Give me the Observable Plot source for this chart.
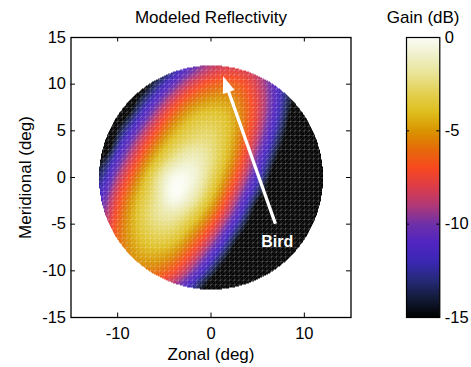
<!DOCTYPE html>
<html><head><meta charset="utf-8">
<script src="https://cdn.jsdelivr.net/npm/d3@7"></script>
<script src="https://cdn.jsdelivr.net/npm/@observablehq/plot@0.6"></script>
<style>
html,body{margin:0;padding:0;background:#fff;}
#chart{position:relative;width:471px;height:367px;font-family:"Liberation Sans",Arial,sans-serif;}
#chart svg{position:absolute;left:0;top:0;}
</style></head><body><div id="chart"></div>
<script>
// grid of gain values (dB), rows from meridional +12 down to -12
const zonal = [-12,-10,-8,-6,-4,-2,0,2,4,6,8,10,12];
const meridional = [12,10,8,6,4,2,0,-2,-4,-6,-8,-10,-12];
const gainRows = [
  [-20,-20,-20,-16.5,-13.2,-10.6,-8.8,-8.1,-8.5,-10.1,-12.9,-16.5,-20],
  [-20,-20,-17.3,-13.5,-10.4,-8.0,-6.6,-6.3,-7.3,-9.6,-12.8,-16.9,-20],
  [-20,-20,-14.4,-10.7,-7.7,-5.6,-4.7,-4.9,-6.6,-9.4,-13.2,-17.6,-20],
  [-20,-15.8,-11.7,-8.3,-5.5,-3.8,-3.3,-4.2,-6.5,-9.9,-14.1,-20,-20],
  [-20,-13.3,-9.3,-6.2,-3.8,-2.6,-2.6,-4.2,-7.2,-10.9,-15.4,-20,-20],
  [-15.3,-11.0,-7.4,-4.3,-2.1,-1.2,-2.3,-4.7,-8.2,-12.3,-17.1,-20,-20],
  [-13.1,-9.1,-5.7,-2.6,-0.3,-0.6,-2.8,-5.8,-9.6,-14.0,-20,-20,-20],
  [-11.4,-7.6,-4.5,-2.2,-0.1,-1.3,-3.9,-7.4,-11.5,-16.2,-20,-20,-20],
  [-10.1,-6.7,-4.0,-2.2,-1.7,-3.1,-5.7,-9.3,-13.8,-20,-20,-20,-20],
  [-9.2,-6.3,-4.2,-3.0,-3.2,-5.1,-7.9,-11.8,-16.4,-20,-20,-20,-20],
  [-8.8,-6.4,-4.8,-4.3,-5.0,-7.2,-10.45,-14.6,-20,-20,-20,-20,-20],
  [-8.8,-6.9,-5.8,-5.8,-7.05,-9.7,-13.3,-17.5,-20,-20,-20,-20,-20],
  [-9.3,-7.7,-7.1,-7.8,-9.65,-12.6,-16.4,-20,-20,-20,-20,-20,-20]
];
const diskRadius = 12;
const colorStops = [-15,-14,-13,-12,-11,-10,-9,-8,-7,-6,-5,-4,-3,-2,-1,0];
const colorHexes = ["#000000","#131b38","#262a78","#3b27b4","#5125c2","#6e30a8","#b03878","#dc3c48","#f84820","#e66a0a","#d99400","#dfbe1e","#e3d050","#e9e394","#eff0c8","#fbfdf5"];
const xTicks = [-10,0,10];
const yTicks = [-15,-10,-5,0,5,10,15];
const innerYTicks = [-10,-5,0,5,10];
const cbTicks = [0,-5,-10,-15];
const cbInnerTicks = [-5,-10];
const birdArrow = {x1: 6.9, y1: -4.95, x2: 1.3, y2: 10.85};
const birdLabel = {x: 7.1, y: -6.95, text: "Bird"};
const titleText = "Modeled Reflectivity";
const xLabel = "Zonal (deg)";
const yLabel = "Meridional (deg)";
const cbTitle = "Gain (dB)";

const FONT = '"Liberation Sans", Arial, sans-serif';
const fmt = d => String(d);

// smooth (Catmull-Rom) sampling of the gain grid, masked to the disk
function cr(p0,p1,p2,p3,t){return 0.5*(2*p1+(-p0+p2)*t+(2*p0-5*p1+4*p2-p3)*t*t+(-p0+3*p1-3*p2+p3)*t*t*t);}
function g(i,j){i=Math.max(0,Math.min(meridional.length-1,i));j=Math.max(0,Math.min(zonal.length-1,j));return gainRows[i][j];}
function gainAt(x,y){
  if (x*x+y*y > diskRadius*diskRadius) return NaN;
  const fj=(x-zonal[0])/(zonal[1]-zonal[0]);
  const fi=(meridional[0]-y)/(meridional[0]-meridional[1]);
  const j0=Math.max(0,Math.min(zonal.length-2,Math.floor(fj)));
  const i0=Math.max(0,Math.min(meridional.length-2,Math.floor(fi)));
  const tx=fj-j0, ty=fi-i0;
  const rows=[-1,0,1,2].map(di=>cr(g(i0+di,j0-1),g(i0+di,j0),g(i0+di,j0+1),g(i0+di,j0+2),tx));
  return cr(rows[0],rows[1],rows[2],rows[3],ty);
}

// faint surface mesh over the disk
const meshStep = 0.5;
const mesh = [];
for (let c=-diskRadius+meshStep; c<diskRadius-1e-9; c+=meshStep){
  const h=Math.sqrt(diskRadius*diskRadius-c*c);
  mesh.push({x1:c,y1:-h,x2:c,y2:h});
  mesh.push({x1:-h,y1:c,x2:h,y2:c});
}
const Rd=diskRadius*Math.SQRT2;
for (let c=-Math.floor(Rd/meshStep)*meshStep; c<Rd; c+=meshStep){
  const s=Math.sqrt(2*diskRadius*diskRadius-c*c);
  const xa=(-c-s)/2, xb=(-c+s)/2;
  mesh.push({x1:xa,y1:xa+c,x2:xb,y2:xb+c});
}

const colorScale = {type:"linear", domain: colorStops, range: colorHexes, interpolate:"rgb", clamp:true};

const dx = birdArrow.x2-birdArrow.x1, dy = birdArrow.y2-birdArrow.y1, dl=Math.hypot(dx,dy);
const shaft = {x1: birdArrow.x1, y1: birdArrow.y1, x2: birdArrow.x2 - 1.0*dx/dl, y2: birdArrow.y2 - 1.0*dy/dl};
const headAngle = Math.atan2(dx, dy)*180/Math.PI;
const arrowHead = {draw(ctx){ctx.moveTo(0,0);ctx.lineTo(-6.2,16.7);ctx.lineTo(6.2,16.7);ctx.closePath();}};

const tl = 0.48;
const main = Plot.plot({
  width:471, height:367,
  marginLeft:70.5, marginRight:120.5, marginTop:37, marginBottom:50,
  style:{fontFamily:FONT, fontSize:"16.5px", color:"black", background:"white", overflow:"visible"},
  x:{domain:[-15,15]},
  y:{domain:[-15,15]},
  color: colorScale,
  marks:[
    Plot.raster({fill: gainAt, x1:-12, x2:12, y1:-12, y2:12, pixelSize:1}),
    Plot.link(mesh,{x1:"x1",y1:"y1",x2:"x2",y2:"y2",stroke:"white",strokeOpacity:0.2,strokeWidth:0.8}),
    Plot.link([shaft],{x1:"x1",y1:"y1",x2:"x2",y2:"y2",stroke:"white",strokeWidth:3.3}),
    Plot.dot([birdArrow],{x:"x2",y:"y2",symbol:arrowHead,r:5,fill:"white",stroke:null,rotate:headAngle}),
    Plot.text([birdLabel],{x:"x",y:"y",text:"text",fill:"white",fontWeight:"bold",fontSize:16,textAnchor:"middle",lineAnchor:"middle"}),
    Plot.ruleX(xTicks,{x:d=>d,y1:-15,y2:-15+tl,stroke:"black"}),
    Plot.ruleX(xTicks,{x:d=>d,y1:15-tl,y2:15,stroke:"black"}),
    Plot.ruleY(innerYTicks,{y:d=>d,x1:-15,x2:-15+tl,stroke:"black"}),
    Plot.ruleY(innerYTicks,{y:d=>d,x1:15-tl,x2:15,stroke:"black"}),
    Plot.frame({stroke:"black",strokeWidth:1.3}),
    Plot.axisX(xTicks,{anchor:"bottom",tickSize:0,tickPadding:10,label:null,fontSize:16.5,tickFormat:fmt}),
    Plot.axisY(yTicks,{anchor:"left",tickSize:0,tickPadding:5,label:null,fontSize:16.5,tickFormat:fmt}),
    Plot.text([titleText],{frameAnchor:"top",dy:-19.7,fontSize:17,textAnchor:"middle",lineAnchor:"middle"}),
    Plot.text([xLabel],{frameAnchor:"bottom",dy:36.6,fontSize:17,textAnchor:"middle",lineAnchor:"middle"}),
    Plot.text([yLabel],{frameAnchor:"left",dx:-45.5,rotate:-90,fontSize:17,textAnchor:"middle",lineAnchor:"middle"})
  ]
});

const cb = Plot.plot({
  width:471, height:367,
  marginLeft:406, marginRight:31.7, marginTop:37, marginBottom:50,
  style:{fontFamily:FONT, fontSize:"16.5px", color:"black", background:"transparent", overflow:"visible"},
  x:{domain:[0,1], axis:null},
  y:{domain:[-15,0]},
  color: colorScale,
  marks:[
    Plot.raster({fill:(x,y)=>y, x1:0, x2:1, y1:-15, y2:0, pixelSize:1}),
    Plot.ruleY(cbInnerTicks,{y:d=>d,x1:0,x2:0.09,stroke:"black"}),
    Plot.ruleY(cbInnerTicks,{y:d=>d,x1:0.91,x2:1,stroke:"black"}),
    Plot.frame({stroke:"black",strokeWidth:1.2}),
    Plot.axisY(cbTicks,{anchor:"right",tickSize:0,tickPadding:5,label:null,fontSize:16.5,tickFormat:fmt}),
    Plot.text([cbTitle],{frameAnchor:"top",dy:-19.7,fontSize:17,textAnchor:"middle",lineAnchor:"middle"})
  ]
});

const el = document.getElementById("chart");
el.appendChild(main);
el.appendChild(cb);
</script></body></html>
